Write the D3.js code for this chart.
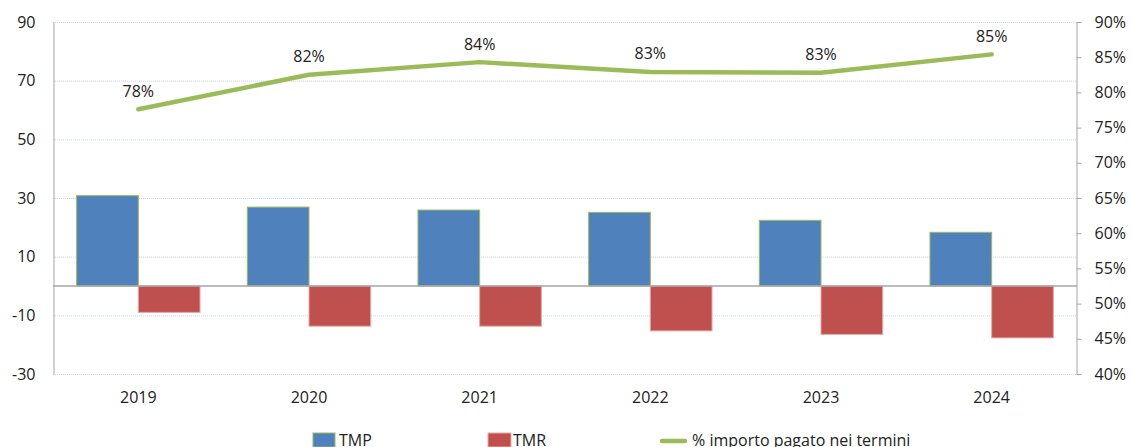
<!DOCTYPE html>
<html>
<head>
<meta charset="utf-8">
<script src="https://cdn.jsdelivr.net/npm/d3@7"></script>
<style>
  body { margin: 0; background: #fff; }
  svg { display: block; font-family: "Open Sans", sans-serif; }
</style>
</head>
<body>
<div id="chart"></div>
<script>
// chart data
const years = ['2019', '2020', '2021', '2022', '2023', '2024'];
const tmp = [30.8, 26.9, 25.9, 25.1, 22.4, 18.3];
const tmr = [-9.0, -13.7, -13.7, -15.3, -16.5, -17.7];
const pctPaid = [0.776, 0.825, 0.843, 0.829, 0.828, 0.854];
const pctLabels = ['78%', '82%', '84%', '83%', '83%', '85%'];
const leftTicks = [90, 70, 50, 30, 10, -10, -30];
const rightTicks = [0.40, 0.45, 0.50, 0.55, 0.60, 0.65, 0.70, 0.75, 0.80, 0.85, 0.90];
const seriesNames = ['TMP', 'TMR', '% importo pagato nei termini'];

const width = 1132, height = 447;
const plot = { left: 53, right: 1077, top: 22, bottom: 374 };

const svg = d3.select('#chart')
  .append('svg')
  .attr('width', width)
  .attr('height', height);

const x = d3.scaleBand()
  .domain(years)
  .range([plot.left, plot.right])
  .padding(0);

const xSub = d3.scaleBand()
  .domain(['TMP', 'TMR'])
  .range([0, x.bandwidth()])
  .paddingInner(0)
  .paddingOuter(0.383);

const yLeft = d3.scaleLinear()
  .domain([-30, 90])
  .range([plot.bottom, plot.top]);

const yRight = d3.scaleLinear()
  .domain([0.40, 0.90])
  .range([plot.bottom, plot.top]);

// gridlines
svg.append('g')
  .selectAll('line')
  .data(leftTicks)
  .enter()
  .append('line')
  .attr('x1', plot.left)
  .attr('x2', plot.right)
  .attr('y1', d => yLeft(d) + 0.5)
  .attr('y2', d => yLeft(d) + 0.5)
  .attr('stroke', '#c9d5ec')
  .attr('stroke-width', 1)
  .attr('stroke-dasharray', '1,1');

// left axis (line only, no ticks), plain hyphen for negatives
const leftAxis = svg.append('g')
  .attr('transform', `translate(${plot.left + 0.5},0)`)
  .call(d3.axisLeft(yLeft).tickValues(leftTicks).tickSize(0).tickPadding(18).tickFormat(d => String(d)));
leftAxis.select('.domain').attr('stroke', '#a6a6a6');
leftAxis.selectAll('text')
  .attr('font-size', 16)
  .attr('font-family', '"Open Sans", sans-serif')
  .attr('fill', '#222');

// right axis
const rightAxis = svg.append('g')
  .attr('transform', `translate(${plot.right - 0.5},0)`)
  .call(d3.axisRight(yRight).tickValues(rightTicks).tickSize(5).tickSizeOuter(0).tickPadding(13).tickFormat(d3.format('.0%')));
rightAxis.select('.domain').attr('stroke', '#a6a6a6');
rightAxis.selectAll('.tick line').attr('stroke', '#a6a6a6');
rightAxis.selectAll('text')
  .attr('font-size', 16)
  .attr('font-family', '"Open Sans", sans-serif')
  .attr('fill', '#222');

// bars
svg.append('g')
  .selectAll('rect')
  .data(years)
  .enter()
  .append('rect')
  .attr('x', d => x(d) + xSub('TMP'))
  .attr('y', (d, i) => yLeft(tmp[i]))
  .attr('width', xSub.bandwidth())
  .attr('height', (d, i) => yLeft(0) - yLeft(tmp[i]))
  .attr('fill', '#4f81bd')
  .attr('stroke', '#9bbb59')
  .attr('stroke-width', 1);

svg.append('g')
  .selectAll('rect')
  .data(years)
  .enter()
  .append('rect')
  .attr('x', d => x(d) + xSub('TMR'))
  .attr('y', yLeft(0))
  .attr('width', xSub.bandwidth())
  .attr('height', (d, i) => yLeft(tmr[i]) - yLeft(0))
  .attr('fill', '#c0504d')
  .attr('stroke', '#e6a9a7')
  .attr('stroke-width', 1);

// zero line
svg.append('line')
  .attr('x1', plot.left)
  .attr('x2', plot.right)
  .attr('y1', yLeft(0))
  .attr('y2', yLeft(0))
  .attr('stroke', '#a6a6a6')
  .attr('stroke-width', 1.5);

// x labels
const xAxis = svg.append('g')
  .attr('transform', `translate(0,${plot.bottom})`)
  .call(d3.axisBottom(x).tickSize(0).tickPadding(18));
xAxis.select('.domain').remove();
xAxis.selectAll('text')
  .attr('font-size', 16)
  .attr('font-family', '"Open Sans", sans-serif')
  .attr('fill', '#222');

// line series
const line = d3.line()
  .x((d, i) => x(years[i]) + x.bandwidth() / 2)
  .y(d => yRight(d));

svg.append('path')
  .datum(pctPaid)
  .attr('d', line)
  .attr('fill', 'none')
  .attr('stroke', '#9bbb59')
  .attr('stroke-width', 4.5)
  .attr('stroke-linecap', 'round')
  .attr('stroke-linejoin', 'round');

svg.append('g')
  .selectAll('text')
  .data(pctPaid)
  .enter()
  .append('text')
  .attr('x', (d, i) => x(years[i]) + x.bandwidth() / 2)
  .attr('y', d => yRight(d) - 12.5)
  .attr('text-anchor', 'middle')
  .attr('font-size', 16)
  .attr('fill', '#222')
  .text((d, i) => pctLabels[i]);

// legend (bottom edge is clipped in the original too)
const legend = svg.append('g');
const legendY = 446;

legend.append('rect')
  .attr('x', 313).attr('y', 433).attr('width', 22).attr('height', 14)
  .attr('fill', '#4f81bd').attr('stroke', '#9bbb59').attr('stroke-width', 1);
legend.append('text')
  .attr('x', 339).attr('y', legendY)
  .attr('font-size', 16).attr('fill', '#222')
  .text(seriesNames[0]);

legend.append('rect')
  .attr('x', 488).attr('y', 433).attr('width', 23).attr('height', 14)
  .attr('fill', '#c0504d').attr('stroke', '#e6a9a7').attr('stroke-width', 1);
legend.append('text')
  .attr('x', 513).attr('y', legendY)
  .attr('font-size', 16).attr('fill', '#222')
  .text(seriesNames[1]);

legend.append('line')
  .attr('x1', 662).attr('x2', 685).attr('y1', 441).attr('y2', 441)
  .attr('stroke', '#9bbb59').attr('stroke-width', 4.5).attr('stroke-linecap', 'round');
legend.append('text')
  .attr('x', 692).attr('y', legendY)
  .attr('font-size', 16).attr('fill', '#222')
  .text(seriesNames[2]);
</script>
</body>
</html>
